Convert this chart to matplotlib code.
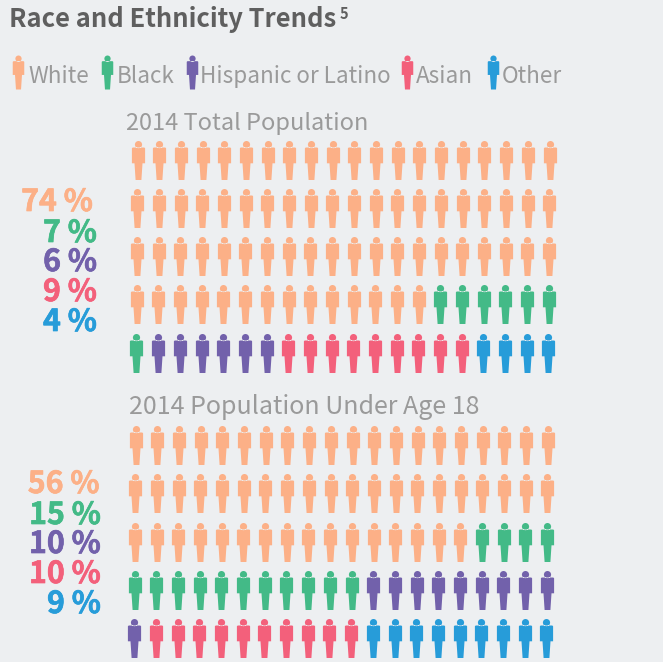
import numpy as np
import matplotlib
matplotlib.use("Agg")
import matplotlib.pyplot as plt
import matplotlib.patheffects as pe
from matplotlib.path import Path

categories = ["White", "Black", "Hispanic or Latino", "Asian", "Other"]
colors = ["#fcb087", "#43ba87", "#7261ab", "#f3607b", "#279cd9"]
total_pop = [74, 7, 6, 9, 4]
under_18 = [56, 15, 10, 10, 9]

W, H = 663, 662
bg = "#edeff1"
plt.rcParams["font.family"] = ["Noto Sans CJK SC", "DejaVu Sans"]

# person icon, pixel units, centred on 0,0 (39 px tall)
head = Path.circle((0, 15.9), 3.6)
body = Path([(-6.6, 12.2), (-5.8, 13), (5.8, 13), (6.6, 12.2), (6.6, -2.8), (4.0, -2.8),
             (2.9, -19.5), (-2.9, -19.5), (-4.0, -2.8), (-6.6, -2.8), (-6.6, 12.2)], closed=True)
person = Path.make_compound_path(head, body)
PERSON_H = 39.0


def icon_size(h):
    # scatter scales a custom marker so that its max extent fills sqrt(s) points
    return (h * 72 / 100) ** 2


def px_axes(fig, left, top, width, height):
    return fig.add_axes([left / W, 1 - (top + height) / H, width / W, height / H])


def draw_grid(fig, values, left, top, skew):
    ax = px_axes(fig, left, top, 412, 193)
    cols = np.arange(100) % 20
    rows = np.arange(100) // 20
    who = np.repeat(np.arange(len(values)), values)
    for k in range(len(values)):
        m = who == k
        ax.scatter(cols[m] - rows[m] * skew, rows[m], marker=person, s=icon_size(PERSON_H),
                   color=colors[k], linewidths=0, clip_on=False)
    ax.set_xlim(0, 19)
    ax.set_ylim(4, 0)
    ax.axis("off")


fig = plt.figure(figsize=(W / 100, H / 100), dpi=100, facecolor=bg)

# page axes in pixels for text and legend
page = fig.add_axes([0, 0, 1, 1])
page.set_xlim(0, W)
page.set_ylim(H, 0)
page.axis("off")

page.text(9, 27, "Race and Ethnicity Trends", fontsize=18.4, fontweight="bold", color="#5f5f5f", va="baseline")
page.text(340, 19, "5", fontsize=10.5, fontweight="bold", color="#5f5f5f", va="baseline")

icon_x = [18.3, 107, 191.7, 407, 493]
label_x = [28, 117, 200, 416, 502]
for k, name in enumerate(categories):
    page.scatter(icon_x[k], 72.3, marker=person, s=icon_size(34), color=colors[k], linewidths=0)
    page.text(label_x[k], 83, name, fontsize=16.2, color="#9a9a9a", va="baseline")

page.text(126, 130, "2014 Total Population", fontsize=17, color="#9a9a9a", va="baseline")
page.text(129, 414, "2014 Population Under Age 18", fontsize=18, color="#9a9a9a", va="baseline")

right_a = [93, 97, 97, 97, 97]
right_b = [99.5, 101, 101, 101, 101]
for k, (a, b) in enumerate(zip(total_pop, under_18)):
    t1 = page.text(right_a[k], [211, 242, 271, 301, 331][k], f"{a} %", fontsize=21.8, fontweight="bold",
                   color=colors[k], ha="right", va="baseline")
    t2 = page.text(right_b[k], [493, 524, 553, 583, 613][k], f"{b} %", fontsize=21.8, fontweight="bold",
                   color=colors[k], ha="right", va="baseline")
    # reference numerals are a bit heavier than the bold face here
    for t in (t1, t2):
        t.set_path_effects([pe.withStroke(linewidth=0.5, foreground=colors[k])])

draw_grid(fig, total_pop, 137.5, 159.5, 0.012)
draw_grid(fig, under_18, 135.7, 445, 0.016)

fig.savefig("out.png", dpi=100, facecolor=bg)
